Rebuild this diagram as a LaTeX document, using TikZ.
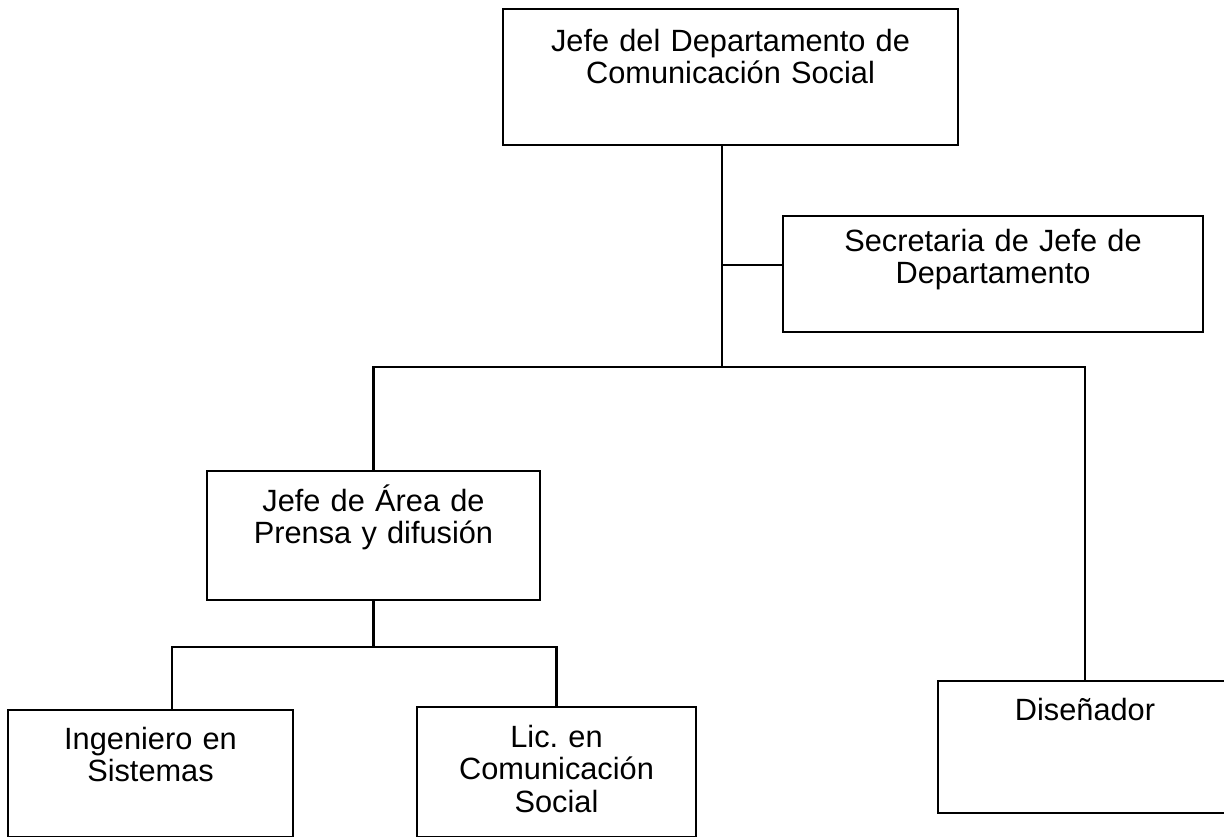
\documentclass[tikz,border=0pt]{standalone}
\usepackage{fontspec}
\setmainfont{Liberation Sans}
\tikzset{
  unit/.style={draw, line width=1.2pt, inner sep=0pt, anchor=north, align=center,
    font=\fontsize{17.5}{18.6}\selectfont},
  link/.style={line width=1.2pt}
}
\begin{document}
\begin{tikzpicture}[x=0.02cm, y=-0.02cm]
        \useasboundingbox (0,0) rectangle (1224,837);
        \node[unit, text width=9.1cm, text height=0.84cm, text depth=1.88cm] at (730.5,8) (jefe) {Jefe del Departamento de\\Comunicación Social};
        \node[unit, text width=8.4cm, text height=0.70cm, text depth=1.62cm] at (993,215) (sec) {Secretaria de Jefe de\\Departamento};
        \node[unit, text width=6.66cm, text height=0.80cm, text depth=1.78cm] at (373.5,470) (area) {Jefe de Área de\\Prensa y difusión};
        \node[unit, text width=5.7cm, text height=0.78cm, text depth=1.76cm] at (150.5,709) (ing) {Ingeniero en\\Sistemas};
        \node[unit, text width=5.58cm, text height=0.80cm, text depth=1.80cm] at (556.5,706) (lic) {Lic.\ en\\Comunicación\\Social};
        \node[unit, text width=5.88cm, text height=0.78cm, text depth=1.86cm] at (1085,680) (dis) {Diseñador};
        \coordinate (bus) at (722,367);
        \coordinate (secj) at (722,265);
        \coordinate (sub) at (374,647);
        \coordinate (ingj) at (172,647);
        \draw[link] (bus |- jefe.south) -- (bus);
        \draw[link] (secj) -- (secj -| sec.west);
        \draw[link] (area.north) |- (bus) -| (dis.north);
        \draw[link] (area.south) -- (area.south |- sub);
        \draw[link] (ingj |- ing.north) |- (sub) -| (lic.north);
      \end{tikzpicture}
\end{document}
